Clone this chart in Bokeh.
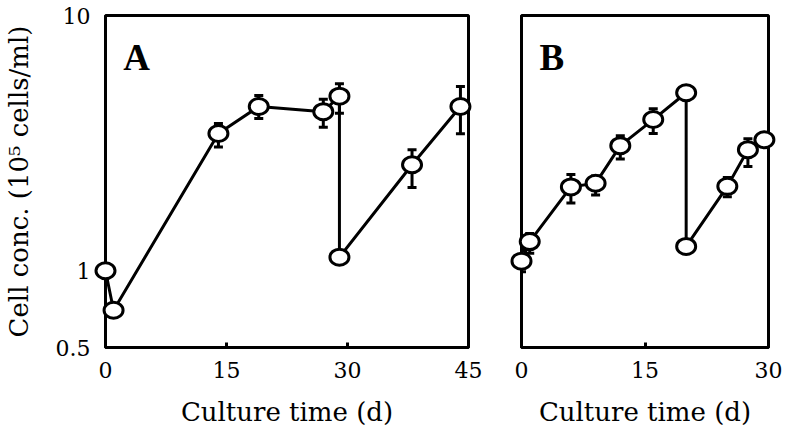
from bokeh.plotting import figure
from bokeh.models import Range1d, FixedTicker, Whisker, ColumnDataSource, Label, TeeHead
from bokeh.layouts import row
from bokeh.embed import file_html
from bokeh.resources import INLINE

# Panel A data
a_time = [0, 1, 14, 19, 27, 29, 29, 38, 44]
a_conc = [1.0, 0.70, 3.45, 4.40, 4.20, 4.83, 1.13, 2.60, 4.40]
a_err_t = [14, 19, 27, 29, 38, 44]
a_err_lo = [3.05, 3.95, 3.65, 4.14, 2.12, 3.44]
a_err_hi = [3.77, 4.86, 4.70, 5.40, 2.98, 5.27]

# Panel B data
b_time = [0, 1, 6, 9, 12, 16, 20, 20, 25, 27.5, 29.5]
b_conc = [1.09, 1.30, 2.13, 2.20, 3.09, 3.91, 4.98, 1.245, 2.14, 2.98, 3.26]
b_err_t = [0, 1, 6, 9, 12, 16, 25, 27.5]
b_err_lo = [0.99, 1.17, 1.84, 1.98, 2.74, 3.45, 1.95, 2.56]
b_err_hi = [1.20, 1.40, 2.38, 2.35, 3.38, 4.31, 2.32, 3.29]

y_ticks = [0.5, 1, 10]
y_tick_labels = {0.5: "0.5", 1: "1", 10: "10"}
a_x_ticks = [0, 15, 30, 45]
b_x_ticks = [0, 15, 30]

SERIF = "DejaVu Serif"


def make_panel(t, c, et, elo, ehi, xmax, xticks, letter, width, left, right, show_y):
    p = figure(width=width, height=440, y_axis_type="log",
               x_range=Range1d(0, xmax), y_range=Range1d(0.5, 10),
               output_backend="svg", toolbar_location=None,
               min_border_left=left, min_border_right=right,
               min_border_top=15, min_border_bottom=93)
    p.grid.visible = False
    p.outline_line_color = "black"
    p.outline_line_width = 3
    p.outline_line_alpha = 1.0
    p.background_fill_color = "white"
    p.border_fill_color = "white"

    xa = p.xaxis[0]
    xa.ticker = FixedTicker(ticks=xticks, minor_ticks=[])
    xa.axis_line_width = 3
    xa.major_tick_line_width = 3
    xa.major_tick_in = 5
    xa.major_tick_out = 0
    xa.minor_tick_line_color = None
    xa.major_label_text_font = SERIF
    xa.major_label_text_font_size = "22px"
    xa.major_label_text_color = "black"
    xa.major_label_standoff = 14
    xa.axis_label = "Culture time (d)"
    xa.axis_label_text_font = SERIF
    xa.axis_label_text_font_size = "26px"
    xa.axis_label_text_font_style = "normal"
    xa.axis_label_text_color = "black"
    xa.axis_label_standoff = 16

    ya = p.yaxis[0]
    ya.ticker = FixedTicker(ticks=y_ticks, minor_ticks=[])
    ya.axis_line_width = 3
    ya.major_tick_in = 0
    ya.major_tick_out = 0
    ya.minor_tick_line_color = None
    if show_y:
        ya.major_label_overrides = y_tick_labels
        ya.major_label_text_font = SERIF
        ya.major_label_text_font_size = "22px"
        ya.major_label_text_color = "black"
        ya.major_label_standoff = 15
        ya.axis_label = "Cell conc. (10\u2075 cells/ml)"
        ya.axis_label_text_font = SERIF
        ya.axis_label_text_font_size = "26px"
        ya.axis_label_text_font_style = "normal"
        ya.axis_label_text_color = "black"
        ya.axis_label_standoff = 19
    else:
        ya.major_label_text_font_size = "0px"
        ya.major_label_text_color = None

    p.line(t, c, line_color="black", line_width=3)
    src = ColumnDataSource(dict(x=et, lo=elo, hi=ehi))
    w = Whisker(base="x", lower="lo", upper="hi", source=src,
                line_color="black", line_width=3,
                lower_head=TeeHead(size=9, line_width=3, line_color="black"),
                upper_head=TeeHead(size=9, line_width=3, line_color="black"),
                level="glyph")
    p.add_layout(w)
    p.ellipse(x=t, y=c, width=19, height=16, width_units="screen", height_units="screen",
              fill_color="white", line_color="black", line_width=3, level="overlay")

    lab = Label(x=2.2, y=6.84, text=letter,
                text_font="Liberation Serif", text_font_style="bold",
                text_font_size="37px", text_color="black", text_baseline="alphabetic")
    p.add_layout(lab)
    return p


pA = make_panel(a_time, a_conc, a_err_t, a_err_lo, a_err_hi, 45, a_x_ticks, "A",
                495, 105, 27, True)
pB = make_panel(b_time, b_conc, b_err_t, b_err_lo, b_err_hi, 30, b_x_ticks, "B",
                291, 26, 18, False)

layout = row(pA, pB)
open("out.html", "w").write(file_html(layout, INLINE))
